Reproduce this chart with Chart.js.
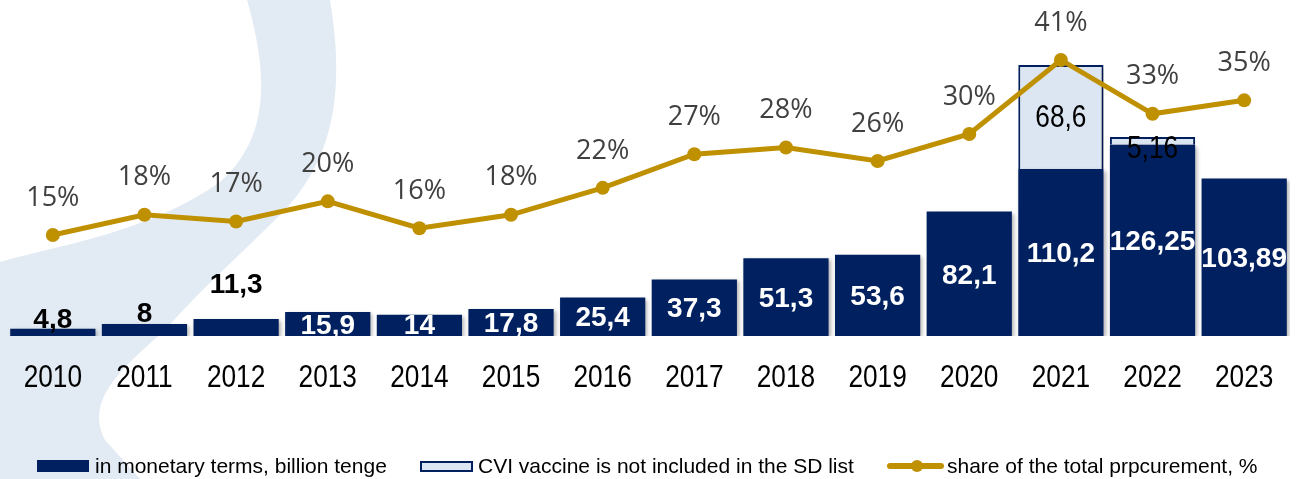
<!DOCTYPE html>
<html>
<head>
<meta charset="utf-8">
<script src="https://cdn.jsdelivr.net/npm/chart.js@4"></script>
<style>
    html, body { margin: 0; padding: 0; background: #ffffff; }
    #wrap { position: relative; width: 1300px; height: 479px; }
    #chart { position: absolute; left: 0; top: 0; }
    .leg { position: absolute; top: 454px; height: 24px; display: flex; align-items: center;
           font-family: 'Liberation Sans', Arial, sans-serif;
           font-size: 21px; color: #000000; white-space: nowrap; }
    .sw { display: inline-block; box-sizing: border-box; }
</style>
</head>
<body>
<div id="wrap">
    <canvas id="chart" width="1300" height="479"></canvas>
    <div class="leg" style="left:37px"><span class="sw" style="width:52px;height:12px;background:#002060;margin-right:6px"></span>in monetary terms, billion tenge</div>
    <div class="leg" style="left:420px"><span class="sw" style="width:53px;height:11px;background:#dce6f2;border:2px solid #002060;margin-right:5px"></span>CVI vaccine is not included in the SD list</div>
    <div class="leg" style="left:887px"><canvas id="lineSw" width="57" height="20" class="sw" style="margin-right:3px"></canvas>share of the total prpcurement, %</div>
</div>
<script>
const years = ['2010', '2011', '2012', '2013', '2014', '2015', '2016', '2017', '2018', '2019', '2020', '2021', '2022', '2023'];
const monetary = [4.8, 8, 11.3, 15.9, 14, 17.8, 25.4, 37.3, 51.3, 53.6, 82.1, 110.2, 126.25, 103.89];
const cviVaccine = [null, null, null, null, null, null, null, null, null, null, null, 68.6, 5.16, null];
const sharePct = [15, 18, 17, 20, 16, 18, 22, 27, 28, 26, 30, 41, 33, 35];

const navy = '#002060';
const gold = '#bf9000';
const sans = "'Liberation Sans', Arial, sans-serif";

// legend swatch for the line
const sw = document.getElementById('lineSw').getContext('2d');
sw.strokeStyle = gold; sw.lineWidth = 6; sw.lineCap = 'round';
sw.beginPath(); sw.moveTo(3, 10); sw.lineTo(54, 10); sw.stroke();
sw.fillStyle = gold; sw.beginPath(); sw.arc(30, 10, 6, 0, Math.PI * 2); sw.fill();

const fmt = (v) => String(v).replace('.', ',');

// narrow text: Arial Narrow is not installed, so squeeze Liberation Sans
function narrowText(ctx, text, x, y, scaleX) {
    ctx.save();
    ctx.translate(x, y);
    ctx.scale(scaleX, 1);
    ctx.fillText(text, 0, 0);
    ctx.restore();
}

// faint decorative band behind the chart
const backdrop = {
    id: 'backdrop',
    beforeDraw(chart) {
        const ctx = chart.ctx;
        ctx.save();
        ctx.fillStyle = '#e2eaf3';
        ctx.beginPath();
        ctx.moveTo(247, 0);
        ctx.lineTo(330, 0);
        ctx.bezierCurveTo(345, 90, 335, 160, 280, 215);
        ctx.bezierCurveTo(240, 255, 200, 290, 165, 330);
        ctx.bezierCurveTo(120, 370, 85, 400, 105, 440);
        ctx.lineTo(140, 479);
        ctx.lineTo(0, 479);
        ctx.lineTo(0, 262);
        ctx.bezierCurveTo(60, 245, 150, 232, 220, 182);
        ctx.bezierCurveTo(268, 140, 270, 80, 247, 0);
        ctx.closePath();
        ctx.fill();
        ctx.restore();
    }
};

const barShadow = {
    id: 'barShadow',
    beforeDatasetDraw(chart, args) {
        if (args.meta.type !== 'bar') return;
        const ctx = chart.ctx;
        ctx.save();
        ctx.shadowColor = 'rgba(0,0,0,0.3)';
        ctx.shadowBlur = 4;
        ctx.shadowOffsetX = 2;
        ctx.shadowOffsetY = 2;
    },
    afterDatasetDraw(chart, args) {
        if (args.meta.type !== 'bar') return;
        chart.ctx.restore();
    }
};

const valueLabels = {
    id: 'valueLabels',
    afterDatasetsDraw(chart) {
        const ctx = chart.ctx;
        ctx.save();
        ctx.textAlign = 'center';
        ctx.textBaseline = 'middle';
        // main bars
        chart.getDatasetMeta(0).data.forEach((bar, i) => {
            const v = monetary[i];
            const h = bar.base - bar.y;
            ctx.font = 'bold 28px ' + sans;
            if (h < 20) {
                ctx.fillStyle = '#000000';
                const off = v > 10 ? 23 : (v > 6 ? -1 : -3);
                ctx.textBaseline = 'bottom';
                ctx.fillText(fmt(v), bar.x, bar.y - off + 3);
                ctx.textBaseline = 'middle';
            } else {
                ctx.fillStyle = '#ffffff';
                ctx.fillText(fmt(v), bar.x, Math.min((bar.y + bar.base) / 2 + 2, bar.base - 10));
            }
        });
        // vaccine segment
        chart.getDatasetMeta(1).data.forEach((bar, i) => {
            const v = cviVaccine[i];
            if (v == null) return;
            ctx.font = '32px ' + sans;
            ctx.fillStyle = '#000000';
            const mid = (bar.y + bar.base) / 2;
            narrowText(ctx, fmt(v), bar.x, bar.base - bar.y < 20 ? mid + 8 : mid + 1, 0.82);
        });
        // line percentages
        chart.getDatasetMeta(2).data.forEach((pt, i) => {
            ctx.font = "27px 'Open Sans', sans-serif";
            ctx.fillStyle = '#404040';
            ctx.fillText(sharePct[i] + '%', pt.x, pt.y - 37);
        });
        ctx.restore();
    }
};

// year labels under the bars, drawn narrow
const yearLabels = {
    id: 'yearLabels',
    afterDraw(chart) {
        const ctx = chart.ctx;
        const xs = chart.scales.x;
        ctx.save();
        ctx.font = '32px ' + sans;
        ctx.fillStyle = '#000000';
        ctx.textAlign = 'center';
        ctx.textBaseline = 'middle';
        years.forEach((yr, i) => {
            narrowText(ctx, yr, xs.getPixelForValue(i), chart.chartArea.bottom + 42, 0.82);
        });
        ctx.restore();
    }
};

new Chart(document.getElementById('chart'), {
    data: {
        labels: years,
        datasets: [
            {
                type: 'bar',
                label: 'in monetary terms, billion tenge',
                data: monetary,
                backgroundColor: navy,
                borderWidth: 0,
                yAxisID: 'y',
                stack: 's',
                order: 2
            },
            {
                type: 'bar',
                label: 'CVI vaccine is not included in the SD list',
                data: cviVaccine,
                backgroundColor: '#dce6f2',
                borderColor: navy,
                borderWidth: 2,
                yAxisID: 'y',
                stack: 's',
                order: 2
            },
            {
                type: 'line',
                label: 'share of the total prpcurement, %',
                data: sharePct,
                borderColor: gold,
                backgroundColor: gold,
                borderWidth: 5,
                pointRadius: 7,
                pointBackgroundColor: gold,
                pointBorderWidth: 0,
                tension: 0,
                yAxisID: 'y1',
                order: 1
            }
        ]
    },
    options: {
        responsive: false,
        animation: false,
        layout: { padding: { top: 33, left: 7, right: 10, bottom: 0 } },
        datasets: { bar: { barPercentage: 0.93, categoryPercentage: 1 } },
        plugins: { legend: { display: false }, tooltip: { enabled: false } },
        scales: {
            x: {
                stacked: true,
                grid: { display: false, drawTicks: false },
                border: { display: false },
                ticks: { display: false },
                afterFit(scale) { scale.height = 143; }
            },
            y: { display: false, stacked: true, min: 0, max: 200 },
            y1: { display: false, min: 0, max: 45 }
        }
    },
    plugins: [backdrop, barShadow, valueLabels, yearLabels]
});
</script>
</body>
</html>
